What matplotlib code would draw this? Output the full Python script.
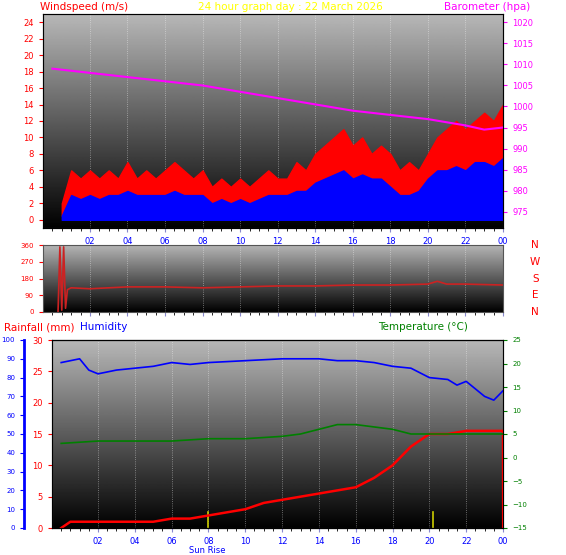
import matplotlib.pyplot as plt
import numpy as np

# hour of day
hours = [0.5, 1, 1.5, 2, 2.5, 3, 3.5, 4, 4.5, 5, 5.5, 6, 6.5, 7, 7.5, 8, 8.5, 9, 9.5, 10,
         10.5, 11, 11.5, 12, 12.5, 13, 13.5, 14, 14.5, 15, 15.5, 16, 16.5, 17, 17.5, 18,
         18.5, 19, 19.5, 20, 20.5, 21, 21.5, 22, 22.5, 23, 23.5, 24]
gust = [2, 6, 5, 6, 5, 6, 5, 7, 5, 6, 5, 6, 7, 6, 5, 6, 4, 5, 4, 5,
        4, 5, 6, 5, 5, 7, 6, 8, 9, 10, 11, 9, 10, 8, 9, 8,
        6, 7, 6, 8, 10, 11, 12, 11, 12, 13, 12, 14]
avg = [0.5, 3, 2.5, 3, 2.5, 3, 3, 3.5, 3, 3, 3, 3, 3.5, 3, 3, 3, 2, 2.5, 2, 2.5,
       2, 2.5, 3, 3, 3, 3.5, 3.5, 4.5, 5, 5.5, 6, 5, 5.5, 5, 5, 4,
       3, 3, 3.5, 5, 6, 6, 6.5, 6, 7, 7, 6.5, 7.5]
baro_h = [0, 2, 4, 6, 8, 10, 12, 14, 16, 18, 20, 22, 23, 24]
baro = [1009, 1008, 1007, 1006, 1005, 1003.5, 1002, 1000.5, 999, 998, 997, 995.5, 994.5, 995]
dir_h = [0.3, 0.4, 0.5, 0.6, 0.7, 0.8, 1, 2, 4, 6, 8, 10, 12, 14, 16, 18, 20, 20.5, 21, 22, 24]
wdir = [0, 350, 10, 350, 20, 120, 130, 125, 135, 135, 130, 135, 140, 140, 145, 145, 150, 165, 150, 150, 145]
hum_h = [0, 1, 1.5, 2, 3, 4, 5, 6, 7, 8, 10, 12, 14, 15, 16, 17, 18, 19, 20, 21, 21.5, 22, 23, 23.5, 24]
hum = [88, 90, 84, 82, 84, 85, 86, 88, 87, 88, 89, 90, 90, 89, 89, 88, 86, 85, 80, 79, 76, 78, 70, 68, 73]
temp_h = [0, 2, 4, 6, 8, 10, 12, 13, 14, 15, 16, 17, 18, 19, 20, 22, 24]
temp = [3, 3.5, 3.5, 3.5, 4, 4, 4.5, 5, 6, 7, 7, 6.5, 6, 5, 5, 5, 5]
rain_h = [0, 0.5, 3, 5, 6, 7, 8, 9, 10, 11, 12, 13, 14, 15, 16, 17, 18, 19, 20, 21, 22, 24, 24.01]
rain = [0, 1, 1, 1, 1.5, 1.5, 2, 2.5, 3, 4, 4.5, 5, 5.5, 6, 6.5, 8, 10, 13, 15, 15, 15.5, 15.5, 0]
xticks = [2, 4, 6, 8, 10, 12, 14, 16, 18, 20, 22, 24]
xlabels = ["02", "04", "06", "08", "10", "12", "14", "16", "18", "20", "22", "00"]

fig = plt.figure(figsize=(5.66, 5.55), dpi=100)
W, H = 566, 555
grad = np.linspace(0.72, 0.0, 256).reshape(-1, 1)


def panel(l, t, r, b):
    ax = fig.add_axes([l / W, 1 - b / H, (r - l) / W, (b - t) / H])
    ax.imshow(grad, cmap="gray", vmin=0, vmax=1, aspect="auto",
              extent=[0, 1, 0, 1], transform=ax.transAxes, zorder=0)
    ax.set_xlim(-0.5, 24)
    for x in xticks:
        ax.axvline(x, color="white", ls=":", lw=0.6, alpha=0.5, zorder=1)
    for s in ax.spines.values():
        s.set_color("#555555")
    ax.set_xticks(xticks)
    ax.set_xticks(np.arange(0, 24.1, 0.5), minor=True)
    ax.tick_params(labelsize=6, length=3, color="#8888cc")
    return ax


# top panel: wind + barometer
ax1 = panel(43, 14, 503, 228)
ax1.fill_between(hours, avg, gust, color="red", zorder=2)
ax1.fill_between(hours, 0, avg, color="blue", zorder=2)
ax1.set_ylim(-1, 25)
ax1.set_yticks(range(0, 25, 2))
ax1.tick_params(axis="y", colors="red", labelcolor="red")
ax1.set_xticklabels(xlabels, color="blue")
ax1b = ax1.twinx()
ax1b.plot(baro_h, baro, color="magenta", lw=1.5)
ax1b.set_ylim(971.1, 1022)
ax1b.set_yticks(range(975, 1021, 5))
ax1b.tick_params(labelsize=6, colors="magenta", length=3)
fig.text(40 / W, 1 - 7 / H, "Windspeed (m/s)", color="red", fontsize=7.5, va="center")
fig.text(290 / W, 1 - 7 / H, "24 hour graph day : 22 March 2026", color="yellow", fontsize=7.5,
         ha="center", va="center")
fig.text(487 / W, 1 - 7 / H, "Barometer (hpa)", color="magenta", fontsize=7.5, ha="center", va="center")

# middle panel: wind direction
ax2 = panel(43, 245, 503, 312)
ax2.plot(dir_h, wdir, color="#cc2222", lw=1.2, zorder=2)
ax2.set_ylim(0, 360)
ax2.set_yticks([0, 90, 180, 270, 360])
ax2.tick_params(axis="y", colors="red", labelcolor="red", labelsize=5)
ax2.set_xticklabels([])
for y, lab in zip([0, 90, 180, 270, 360], ["N", "E", "S", "W", "N"]):
    ax2.text(1.07, y / 360, lab, color="red", fontsize=7.5, transform=ax2.transAxes,
             ha="center", va="center", clip_on=False)

# bottom panel: rain, humidity, temperature
ax3 = panel(52, 340, 503, 528)
ax3.plot(rain_h, rain, color="red", lw=1.8, zorder=3)
ax3.set_ylim(0, 30)
ax3.set_yticks(range(0, 31, 5))
ax3.tick_params(axis="y", colors="red", labelcolor="red")
ax3.set_xticklabels(xlabels, color="blue")
for x in [7.95, 20.2]:
    ax3.plot([x, x], [0, 2.5], color="#cccc00", lw=1.2, zorder=2)
ax3.text(7.95, -3.6, "Sun Rise", color="blue", fontsize=6, ha="center", va="center")
axh = ax3.twinx()
axh.plot(hum_h, hum, color="blue", lw=1.2)
axh.set_ylim(0, 100)
axh.spines["right"].set_visible(False)
axh.spines["left"].set_visible(True)
axh.spines["left"].set_position(("outward", 20))
axh.spines["left"].set_color("blue")
axh.spines["left"].set_linewidth(2)
axh.yaxis.set_ticks_position("left")
axh.yaxis.set_label_position("left")
axh.set_yticks(range(0, 101, 10))
axh.tick_params(labelsize=5, colors="blue", length=3)
axt = ax3.twinx()
axt.plot(temp_h, temp, color="green", lw=1.2)
axt.set_ylim(-15, 25)
axt.set_yticks(range(-15, 26, 5))
axt.tick_params(labelsize=5, colors="green", length=3)
fig.text(4 / W, 1 - 327 / H, "Rainfall (mm)", color="red", fontsize=7.5, va="center")
fig.text(80 / W, 1 - 327 / H, "Humidity", color="blue", fontsize=7.5, va="center")
fig.text(378 / W, 1 - 327 / H, "Temperature (\u00b0C)", color="green", fontsize=7.5, va="center")

fig.savefig("out.png", dpi=100)
